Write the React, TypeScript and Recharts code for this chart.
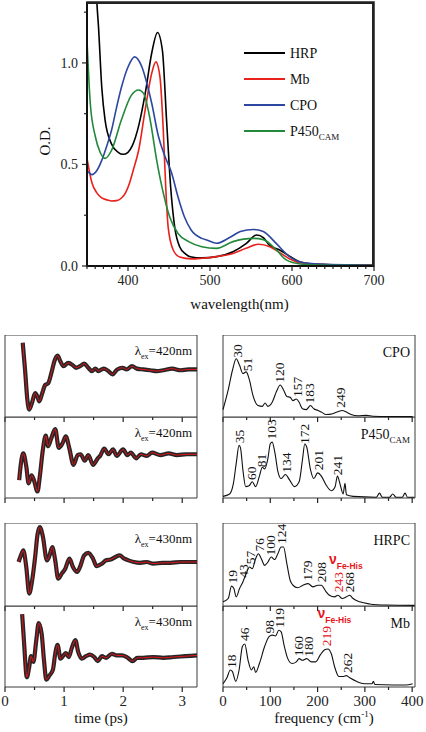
import React from 'react';
import {
  LineChart,
  ComposedChart,
  Line,
  Scatter,
  XAxis,
  YAxis,
  ReferenceArea,
  Legend,
  Label,
} from 'recharts';

const SERIF = '"Liberation Serif", "Times New Roman", Times, serif';
const SANS = '"Liberation Sans", Arial, sans-serif';
const RED = '#e8141b';

// ---- absorption spectra (wavelength nm -> O.D.) ----
const HRP_WL = [350, 356, 360, 362, 364, 368, 372, 380, 388, 394, 400, 405, 413, 421, 429, 436, 442, 447, 452, 457, 463, 470, 476, 490, 508, 528, 544, 557, 565, 573, 585, 598, 610, 625, 660, 700];
const HRP_OD = [2.6, 1.9, 1.5, 1.3, 1.18, 0.88, 0.72, 0.6, 0.56, 0.55, 0.56, 0.59, 0.69, 0.85, 1.05, 1.15, 1.06, 0.72, 0.39, 0.19, 0.095, 0.06, 0.046, 0.04, 0.046, 0.07, 0.11, 0.153, 0.14, 0.1, 0.079, 0.046, 0.02, 0.01, 0.006, 0.005];

const MB_WL = [350, 356, 362, 368, 375, 380, 386, 392, 397, 402, 407, 413, 421, 429, 434, 439, 443, 446, 449, 455, 463, 477, 490, 508, 528, 544, 559, 573, 585, 598, 610, 650, 700];
const MB_OD = [0.53, 0.41, 0.36, 0.335, 0.325, 0.32, 0.322, 0.335, 0.36, 0.41, 0.48, 0.57, 0.77, 0.95, 1.005, 0.93, 0.67, 0.39, 0.19, 0.08, 0.044, 0.035, 0.038, 0.046, 0.062, 0.087, 0.107, 0.095, 0.066, 0.033, 0.016, 0.006, 0.005];

const CPO_WL = [350, 356, 362, 368, 374, 380, 386, 392, 400, 408, 417, 423, 429, 437, 445, 453, 461, 469, 477, 490, 496, 508, 524, 537, 553, 565, 581, 597, 610, 640, 700];
const CPO_OD = [0.47, 0.45, 0.47, 0.52, 0.59, 0.67, 0.78, 0.88, 0.98, 1.03, 0.98, 0.9, 0.8, 0.64, 0.54, 0.46, 0.34, 0.24, 0.177, 0.136, 0.128, 0.112, 0.14, 0.17, 0.18, 0.17, 0.11, 0.046, 0.02, 0.008, 0.004];

const P450_WL = [350, 354, 360, 366, 372, 380, 392, 404, 413, 419, 427, 435, 443, 451, 461, 474, 490, 508, 528, 553, 565, 581, 593, 610, 640, 700];
const P450_OD = [1.11, 0.8, 0.64, 0.56, 0.53, 0.57, 0.72, 0.84, 0.867, 0.85, 0.72, 0.52, 0.36, 0.24, 0.16, 0.12, 0.095, 0.087, 0.12, 0.136, 0.13, 0.079, 0.03, 0.01, 0.004, 0.002];

const SERIES = [
  { name: 'HRP', sub: '', wl: HRP_WL, od: HRP_OD, color: '#000000' },
  { name: 'Mb', sub: '', wl: MB_WL, od: MB_OD, color: '#e8211c' },
  { name: 'CPO', sub: '', wl: CPO_WL, od: CPO_OD, color: '#2c47a0' },
  { name: 'P450', sub: 'CAM', wl: P450_WL, od: P450_OD, color: '#22883a' },
];

// one table keyed by wavelength, one column per protein
function buildAbsTable() {
  const rows: Record<number, any> = {};
  SERIES.forEach((s) => {
    s.wl.forEach((w, i) => {
      rows[w] = rows[w] || { wl: w };
      rows[w][s.name] = s.od[i];
    });
  });
  return Object.values(rows).sort((a: any, b: any) => a.wl - b.wl);
}
const ABS_TABLE = buildAbsTable();

const WL_TICKS = Array.from({ length: 36 }, (_, i) => 350 + i * 10);
const WL_MAJOR = [400, 500, 600, 700];
const OD_TICKS = [0, 0.25, 0.5, 0.75, 1, 1.25];
const OD_MAJOR = [0, 0.5, 1];

// ---- coherence traces (time ps -> normalised signal) ----
const T_MAX = 3.25;
const TIME_TICKS = [0, 0.5, 1, 1.5, 2, 2.5, 3];
const TIME_MAJOR = [0, 1, 2, 3];

const CPO_T = [0.3, 0.34, 0.38, 0.41, 0.46, 0.51, 0.55, 0.58, 0.63, 0.68, 0.73, 0.79, 0.84, 0.89, 0.93, 0.99, 1.07, 1.15, 1.2, 1.27, 1.34, 1.41, 1.47, 1.53, 1.58, 1.67, 1.75, 1.82, 1.9, 1.99, 2.06, 2.15, 2.23, 2.34, 2.46, 2.57, 2.68, 2.83, 2.97, 3.11, 3.25];
const CPO_S = [0.906, 0.57, 0.2, 0.09, 0.18, 0.29, 0.245, 0.19, 0.29, 0.39, 0.41, 0.55, 0.69, 0.75, 0.69, 0.62, 0.66, 0.63, 0.6, 0.62, 0.65, 0.6, 0.56, 0.59, 0.56, 0.59, 0.56, 0.52, 0.58, 0.6, 0.58, 0.62, 0.59, 0.58, 0.57, 0.56, 0.57, 0.59, 0.57, 0.58, 0.58];

const P450_T = [0.24, 0.27, 0.31, 0.36, 0.4, 0.45, 0.49, 0.55, 0.59, 0.64, 0.69, 0.73, 0.78, 0.85, 0.91, 0.97, 1.03, 1.09, 1.16, 1.23, 1.28, 1.35, 1.41, 1.49, 1.57, 1.61, 1.68, 1.75, 1.83, 1.89, 2.0, 2.07, 2.13, 2.22, 2.3, 2.4, 2.49, 2.63, 2.77, 2.91, 3.08, 3.25];
const P450_S = [0.22, 0.43, 0.55, 0.39, 0.18, 0.28, 0.22, 0.08, 0.27, 0.59, 0.77, 0.64, 0.73, 0.85, 0.62, 0.67, 0.76, 0.61, 0.41, 0.53, 0.54, 0.46, 0.53, 0.41, 0.49, 0.52, 0.61, 0.54, 0.6, 0.52, 0.6, 0.53, 0.56, 0.49, 0.54, 0.52, 0.56, 0.53, 0.55, 0.53, 0.54, 0.54];

const HRPC_T = [0.23, 0.27, 0.31, 0.36, 0.41, 0.46, 0.51, 0.55, 0.59, 0.64, 0.71, 0.75, 0.8, 0.85, 0.9, 0.96, 1.02, 1.09, 1.15, 1.22, 1.27, 1.34, 1.41, 1.49, 1.55, 1.64, 1.71, 1.79, 1.87, 1.94, 2.02, 2.09, 2.18, 2.29, 2.4, 2.51, 2.66, 2.8, 2.97, 3.11, 3.25];
const HRPC_S = [0.53, 0.61, 0.67, 0.47, 0.15, 0.31, 0.59, 0.86, 0.95, 0.84, 0.55, 0.6, 0.71, 0.55, 0.33, 0.39, 0.45, 0.57, 0.47, 0.41, 0.47, 0.61, 0.64, 0.57, 0.48, 0.51, 0.55, 0.56, 0.59, 0.61, 0.57, 0.55, 0.53, 0.52, 0.53, 0.51, 0.52, 0.52, 0.53, 0.53, 0.53];

const MB_T = [0.29, 0.32, 0.37, 0.41, 0.44, 0.48, 0.53, 0.57, 0.62, 0.66, 0.7, 0.75, 0.81, 0.85, 0.89, 0.94, 0.99, 1.03, 1.08, 1.13, 1.19, 1.24, 1.3, 1.37, 1.44, 1.51, 1.57, 1.64, 1.71, 1.81, 1.89, 1.98, 2.06, 2.16, 2.24, 2.34, 2.51, 2.68, 2.85, 3.05, 3.25];
const MB_S = [0.9, 0.58, 0.12, 0.25, 0.38, 0.31, 0.58, 0.79, 0.66, 0.33, 0.09, 0.14, 0.21, 0.41, 0.52, 0.35, 0.39, 0.42, 0.37, 0.48, 0.58, 0.43, 0.35, 0.38, 0.4, 0.37, 0.32, 0.38, 0.36, 0.41, 0.39, 0.39, 0.37, 0.32, 0.36, 0.36, 0.37, 0.36, 0.37, 0.38, 0.39];

// ---- LPSVD power spectra (frequency cm-1 -> amplitude) ----
const F_MAX = 406;
const FREQ_TICKS = [0, 50, 100, 150, 200, 250, 300, 350, 400];
const FREQ_MAJOR = [0, 100, 200, 300, 400];

const CPO_F = [0, 11, 20, 28, 35, 42, 49, 56, 63, 74, 83, 89, 95, 104, 113, 121, 128, 135, 142, 148, 155, 161, 168, 176, 185, 192, 201, 208, 218, 232, 243, 252, 261, 271, 285, 303, 317, 401];
const CPO_A = [0.09, 0.33, 0.57, 0.71, 0.63, 0.53, 0.55, 0.45, 0.27, 0.14, 0.13, 0.17, 0.13, 0.18, 0.31, 0.39, 0.33, 0.25, 0.24, 0.2, 0.22, 0.18, 0.1, 0.09, 0.14, 0.1, 0.08, 0.06, 0.03, 0.04, 0.065, 0.08, 0.06, 0.03, 0.015, 0.02, 0.01, 0.005];
const CPO_PEAKS = [30, 51, 120, 157, 183, 249];

const P450_F = [0, 14, 22, 28, 34, 37, 42, 48, 55, 62, 69, 77, 83, 88, 95, 100, 104, 110, 116, 123, 132, 141, 151, 161, 168, 173, 177, 185, 192, 200, 208, 218, 229, 237, 242, 248, 254, 258, 261, 275, 324, 331, 337, 352, 359, 366, 379, 385, 390, 405];
const P450_A = [0.02, 0.05, 0.18, 0.43, 0.65, 0.62, 0.35, 0.14, 0.15, 0.2, 0.14, 0.27, 0.38, 0.36, 0.49, 0.67, 0.69, 0.55, 0.33, 0.24, 0.29, 0.22, 0.14, 0.2, 0.47, 0.67, 0.63, 0.35, 0.24, 0.31, 0.27, 0.16, 0.09, 0.14, 0.27, 0.16, 0.05, 0.18, 0.04, 0.02, 0.01, 0.06, 0.01, 0.01, 0.05, 0.01, 0.01, 0.06, 0.01, 0.01];
const P450_PEAKS = [35, 60, 81, 103, 134, 172, 201, 241];

const HRPC_F = [0, 11, 18, 23, 28, 35, 42, 49, 56, 62, 69, 75, 81, 88, 95, 102, 109, 116, 123, 128, 135, 142, 148, 158, 169, 180, 190, 201, 208, 217, 225, 236, 243, 252, 261, 268, 275, 289, 310, 345, 405];
const HRPC_A = [0.05, 0.09, 0.24, 0.21, 0.11, 0.21, 0.29, 0.39, 0.47, 0.45, 0.57, 0.63, 0.57, 0.49, 0.53, 0.59, 0.56, 0.63, 0.71, 0.71, 0.51, 0.31, 0.25, 0.22, 0.25, 0.27, 0.23, 0.25, 0.25, 0.18, 0.13, 0.11, 0.13, 0.09, 0.11, 0.13, 0.09, 0.05, 0.025, 0.012, 0.008];
const HRPC_PEAKS = [19, 43, 57, 76, 100, 124, 179, 208, 243, 268];

const MBS_F = [0, 8, 15.5, 20, 27, 34, 41, 46, 53, 60, 65, 69, 77, 88, 97, 104, 111, 118, 123, 129, 137, 146, 155, 161, 168, 177, 187, 196, 206, 215, 222, 229, 236, 245, 255, 261, 269, 282, 299, 315, 318, 321, 359, 387, 401];
const MBS_A = [0.04, 0.11, 0.21, 0.19, 0.07, 0.21, 0.5, 0.53, 0.33, 0.21, 0.25, 0.18, 0.29, 0.5, 0.62, 0.64, 0.63, 0.7, 0.68, 0.52, 0.35, 0.29, 0.31, 0.35, 0.33, 0.35, 0.31, 0.31, 0.4, 0.46, 0.47, 0.41, 0.25, 0.13, 0.13, 0.14, 0.11, 0.07, 0.04, 0.04, 0.07, 0.03, 0.025, 0.025, 0.04];
const MBS_PEAKS = [18, 46, 98, 119, 160, 180, 219, 262];

function interp(xs: number[], ys: number[], x: number) {
  for (let i = 1; i < xs.length; i++) {
    if (x <= xs[i]) {
      const r = (x - xs[i - 1]) / (xs[i] - xs[i - 1]);
      return ys[i - 1] + r * (ys[i] - ys[i - 1]);
    }
  }
  return ys[ys.length - 1];
}

// tick drawn by hand: tickSize/tickMargin are 0 so x,y sit on the axis line
function BottomTick(props: any) {
  const { x, y, payload, major, fontSize } = props;
  const isMajor = major.includes(payload.value);
  return (
    <g>
      <line x1={x} x2={x} y1={y} y2={y + (isMajor ? 5 : 3)} stroke="#222" strokeWidth={1.2} />
      {props.showText && isMajor && (
        <text x={x} y={y + 19} textAnchor="middle" fontSize={fontSize} fontFamily={SERIF} fill="#222">
          {payload.value}
        </text>
      )}
    </g>
  );
}

function LeftTick(props: any) {
  const { x, y, payload } = props;
  const isMajor = OD_MAJOR.includes(payload.value);
  return (
    <g>
      <line x1={x} x2={x - (isMajor ? 5 : 3)} y1={y} y2={y} stroke="#222" strokeWidth={1.2} />
      {isMajor && (
        <text x={x - 9} y={y} dy="0.35em" textAnchor="end" fontSize={14} fontFamily={SERIF} fill="#222">
          {payload.value.toFixed(1)}
        </text>
      )}
    </g>
  );
}

function SpectraLegend() {
  return (
    <svg width={140} height={100}>
      {SERIES.map((s, i) => (
        <g key={s.name}>
          <line x1={0} x2={41} y1={8 + i * 26} y2={8 + i * 26} stroke={s.color} strokeWidth={2} />
          <text x={46} y={13 + i * 26} fontSize={14} fontFamily={SERIF} fill="#111">
            {s.name}
            {s.sub && (
              <tspan fontSize={9} dy={4}>
                {s.sub}
              </tspan>
            )}
          </text>
        </g>
      ))}
    </svg>
  );
}

const ABS_MARGIN = { top: 2, right: 52, bottom: 24, left: 27 };
const ABS_W = 426;
const ABS_H = 320;
const ABS_YAXIS_W = 60;
const ABS_XAXIS_H = 30;

function AbsorptionChart() {
  return (
    <div style={{ position: 'absolute', left: 0, top: 0, width: ABS_W, height: ABS_H }}>
      <LineChart width={ABS_W} height={ABS_H} data={ABS_TABLE} margin={ABS_MARGIN}>
        <XAxis
          type="number"
          dataKey="wl"
          domain={[350, 700]}
          ticks={WL_TICKS}
          interval={0}
          allowDataOverflow
          height={ABS_XAXIS_H}
          tickSize={0}
          tickMargin={0}
          tickLine={false}
          axisLine={{ stroke: '#111', strokeWidth: 2 }}
          tick={(p: any) => <BottomTick {...p} major={WL_MAJOR} fontSize={14} showText />}
        >
          <Label
            content={({ viewBox }: any) => (
              <text x={viewBox.x + viewBox.width / 2 + 9} y={viewBox.y + 43} textAnchor="middle" fontSize={15} fontFamily={SERIF} fill="#111">
                wavelength(nm)
              </text>
            )}
          />
        </XAxis>
        <YAxis
          type="number"
          domain={[0, 1.3]}
          ticks={OD_TICKS}
          interval={0}
          allowDataOverflow
          width={ABS_YAXIS_W}
          tickSize={0}
          tickMargin={0}
          tickLine={false}
          axisLine={{ stroke: '#111', strokeWidth: 2 }}
          tick={(p: any) => <LeftTick {...p} />}
        >
          <Label
            content={({ viewBox }: any) => {
              const cx = viewBox.x + 18;
              const cy = viewBox.y + viewBox.height / 2 + 7;
              return (
                <text x={cx} y={cy} transform={`rotate(-90 ${cx} ${cy})`} textAnchor="middle" dy="0.35em" fontSize={15} fontFamily={SERIF} fill="#111">
                  O.D.
                </text>
              );
            }}
          />
        </YAxis>
        <ReferenceArea x1={350} x2={700} y1={0} y2={1.3} ifOverflow="visible" fill="none" stroke="#222" strokeWidth={1.5} />
        {SERIES.map((s) => (
          <Line
            key={s.name}
            name={s.name}
            dataKey={s.name}
            connectNulls
            type="monotone"
            stroke={s.color}
            strokeWidth={1.6}
            dot={false}
            isAnimationActive={false}
          />
        ))}
        <Legend
          layout="horizontal"
          align="center"
          verticalAlign="middle"
          wrapperStyle={{ left: 244, top: 45, width: 140, height: 100 }}
          content={() => <SpectraLegend />}
        />
      </LineChart>
    </div>
  );
}

// top and right edges of the absorption plot box, drawn above everything else
function AbsorptionFrame() {
  const plotLeft = ABS_MARGIN.left + ABS_YAXIS_W;
  const plotW = ABS_W - plotLeft - ABS_MARGIN.right;
  const plotH = ABS_H - ABS_MARGIN.top - ABS_MARGIN.bottom - ABS_XAXIS_H;
  return (
    <div
      style={{
        position: 'absolute',
        zIndex: 10,
        left: plotLeft,
        top: ABS_MARGIN.top,
        width: plotW,
        height: plotH,
        borderTop: '2px solid #222',
        borderRight: '2px solid #222',
        boxSizing: 'border-box',
        pointerEvents: 'none',
      }}
    />
  );
}

function AxisTitle({ text, sup, dx }: { text: string; sup?: string; dx: number }) {
  return ({ viewBox }: any) => (
    <text x={viewBox.x + viewBox.width / 2 + dx} y={viewBox.y + 36} textAnchor="middle" fontSize={15} fontFamily={SERIF} fill="#111">
      {text}
      {sup && (
        <>
          <tspan fontSize={9} dy={-6}>
            {sup}
          </tspan>
          <tspan dy={6}>)</tspan>
        </>
      )}
    </text>
  );
}

function TracePanel({ t, s, top, height, lambda, last }: any) {
  const data = t.map((tt: number, i: number) => ({ t: tt, s: s[i] }));
  const axisH = last ? 45 : 12;
  return (
    <div style={{ position: 'absolute', left: 0, top, width: 213 }}>
      <LineChart width={213} height={height + axisH} data={data} margin={{ top: 0, right: 16, bottom: 0, left: 5 }}>
        <XAxis
          type="number"
          dataKey="t"
          domain={[0, T_MAX]}
          ticks={TIME_TICKS}
          interval={0}
          height={axisH}
          tickSize={0}
          tickMargin={0}
          tickLine={false}
          axisLine={false}
          tick={(p: any) => <BottomTick {...p} major={TIME_MAJOR} fontSize={15} showText={last} />}
        >
          {last && <Label content={AxisTitle({ text: 'time (ps)', dx: 0 })} />}
        </XAxis>
        <YAxis hide type="number" domain={[0, 1]} />
        <ReferenceArea x1={0} x2={T_MAX} y1={0} y2={1} fill="none" stroke="#3a3a3a" strokeWidth={1} />
        <Line type="monotone" dataKey="s" name="data" stroke="#262626" strokeWidth={4.2} dot={false} isAnimationActive={false} />
        <Line type="monotone" dataKey="s" name="fit" stroke={RED} strokeWidth={1} dot={false} isAnimationActive={false} />
      </LineChart>
      <div style={{ position: 'absolute', top: 9, right: 21, fontFamily: SERIF, fontSize: 13, lineHeight: 1, color: '#111' }}>
        λ<span style={{ fontSize: 8, position: 'relative', top: 4 }}>ex</span>={lambda}nm
      </div>
    </div>
  );
}

function PeakLabel(props: any) {
  const { cx, cy, payload } = props;
  if (cx == null || cy == null) return null;
  const red = payload.feHis;
  const color = red ? RED : '#111';
  const text = String(payload.f);
  const base = cy - 3;
  const topY = base - text.length * 6.8;
  return (
    <g>
      <text x={cx} y={base} dy="0.35em" transform={`rotate(-90 ${cx} ${base})`} fontSize={13.5} fontFamily={SERIF} fill={color}>
        {text}
      </text>
      {red && (
        <text x={cx - 9} y={topY - 8} fill={color} fontFamily={SANS} fontWeight="bold" fontSize={14}>
          ν
          <tspan fontSize={8.5} dy={5}>
            Fe-His
          </tspan>
        </text>
      )}
    </g>
  );
}

function SpectrumPanel({ f, a, peaks, feHis, title, sub, top, height, last }: any) {
  const data = f.map((x: number, i: number) => ({ f: x, a: a[i] }));
  const marks = peaks.map((p: number) => ({ f: p, a: interp(f, a, p), feHis: p === feHis }));
  const axisH = last ? 45 : 12;
  return (
    <div style={{ position: 'absolute', left: 213, top, width: 213 }}>
      <ComposedChart width={213} height={height + axisH} data={data} margin={{ top: 0, right: 11, bottom: 0, left: 10 }}>
        <XAxis
          type="number"
          dataKey="f"
          domain={[0, F_MAX]}
          ticks={FREQ_TICKS}
          interval={0}
          height={axisH}
          tickSize={0}
          tickMargin={0}
          tickLine={false}
          axisLine={false}
          tick={(p: any) => <BottomTick {...p} major={FREQ_MAJOR} fontSize={15} showText={last} />}
        >
          {last && <Label content={AxisTitle({ text: 'frequency (cm', sup: '-1', dx: 5 })} />}
        </XAxis>
        <YAxis hide type="number" dataKey="a" domain={[0, 1]} />
        <ReferenceArea x1={0} x2={F_MAX} y1={0} y2={1} fill="none" stroke="#3a3a3a" strokeWidth={1} />
        <Line type="monotone" dataKey="a" stroke="#111" strokeWidth={1.1} dot={false} isAnimationActive={false} />
        <Scatter data={marks} dataKey="a" shape={(p: any) => <PeakLabel {...p} />} isAnimationActive={false} />
      </ComposedChart>
      <div style={{ position: 'absolute', top: 11, right: 16, fontFamily: SERIF, fontSize: 14, lineHeight: 1, color: '#111' }}>
        {title}
        {sub && <span style={{ fontSize: 9, position: 'relative', top: 4 }}>{sub}</span>}
      </div>
    </div>
  );
}

export default function App() {
  return (
    <div style={{ position: 'absolute', left: 0, top: 0, width: 426, height: 732, background: '#fff' }}>
      <AbsorptionChart />
      <TracePanel t={CPO_T} s={CPO_S} top={335} height={82} lambda={420} />
      <TracePanel t={P450_T} s={P450_S} top={417} height={81} lambda={420} />
      <TracePanel t={HRPC_T} s={HRPC_S} top={523} height={83} lambda={430} />
      <TracePanel t={MB_T} s={MB_S} top={606} height={81} lambda={430} last />
      <SpectrumPanel f={CPO_F} a={CPO_A} peaks={CPO_PEAKS} title="CPO" top={335} height={82} />
      <SpectrumPanel f={P450_F} a={P450_A} peaks={P450_PEAKS} title="P450" sub="CAM" top={417} height={81} />
      <SpectrumPanel f={HRPC_F} a={HRPC_A} peaks={HRPC_PEAKS} feHis={243} title="HRPC" top={523} height={83} />
      <SpectrumPanel f={MBS_F} a={MBS_A} peaks={MBS_PEAKS} feHis={219} title="Mb" top={606} height={81} last />
      <AbsorptionFrame />
    </div>
  );
}
